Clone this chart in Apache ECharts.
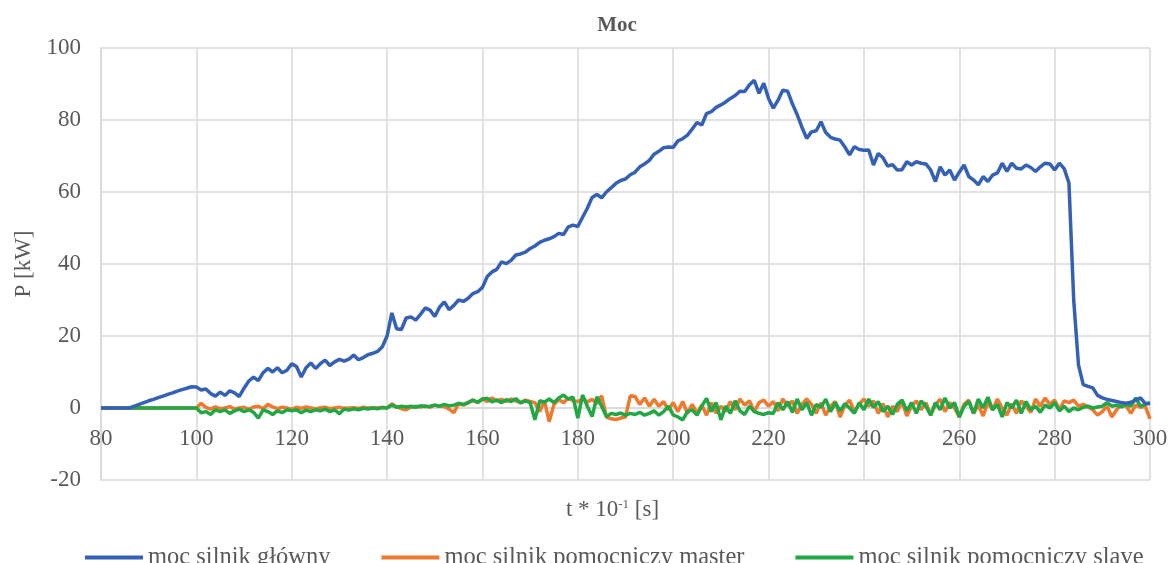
<!DOCTYPE html>
<html><head><meta charset="utf-8">
<script src="https://cdn.jsdelivr.net/npm/echarts@6/dist/echarts.min.js"></script>
<style>html,body{margin:0;padding:0;background:#fff}#c{width:1174px;height:563px}</style>
</head><body><div id="c"></div>
<script>
var xStart = 80, xEnd = 300;
var seriesNames = ['moc silnik główny', 'moc silnik pomocniczy master', 'moc silnik pomocniczy slave'];
// values at t = 80, 81, ..., 300
var mainPower = [
0,0,0,0,0,0,0,0.5,1,1.5,
2,2.4,2.9,3.3,3.8,4.2,4.7,5.1,5.5,5.9,
5.8,5.0,5.3,4.0,3.3,4.4,3.5,4.8,4.2,3.2,
5.5,7.5,8.6,7.6,9.8,11,10,11.2,9.8,10.5,
12.3,11.5,8.6,11.2,12.5,11,12.3,13.3,11.8,12.8,
13.5,13,13.6,14.7,13.4,14,14.8,15.2,15.7,17,
20,26.4,22,21.8,25,25.3,24.4,26,27.8,27.2,
25.4,28,29.5,27.3,28.5,30,29.6,30.5,31.8,32.3,
33.5,36.5,37.8,38.5,40.6,40.1,41,42.5,42.8,43.3,
44.3,45,46,46.6,47,47.6,48.5,48.2,50.3,50.8,
50.4,53,55.5,58.5,59.3,58.4,60,61.2,62.4,63.2,
63.6,64.8,65.5,67,67.8,68.8,70.5,71.3,72.3,72.5,
72.4,74.2,74.8,75.8,77.5,79.3,78.6,81.8,82.3,83.5,
84.2,85,86,86.8,88,87.9,89.8,91,87.4,90.2,
86,83.3,85.5,88.3,88,84.5,81.5,78,74.9,76.7,
77,79.5,76.5,75.2,74.7,74.4,72.5,70.3,72.6,71.8,
71.6,71.7,67.5,70.7,69.5,67.2,67.6,66.1,66.2,68.4,
67.5,68.4,68,67.8,66.1,62.9,67,64.7,66.1,63.3,
65.5,67.5,64.3,63.3,62,64.3,62.9,64.7,65.3,68,
65.7,68,66.6,66.4,67.5,66.8,65.7,67,68,67.8,
66.1,68,66.5,62.5,30,12,6.5,6,5.6,3.5,
2.8,2.4,2.1,1.8,1.5,1.3,1.6,2.2,2.8,1.3,
1.2
];
var masterPower = [
0,0,0,0,0,0,0,0,0,0,
0,0,0,0,0,0,0,0,0,0,
0,1.3,0.2,-0.3,0.3,-0.2,0,0.4,-0.3,0,
0.2,-0.4,0.3,0.5,-0.2,1.0,0.3,-0.2,0.2,0,
-0.4,0.2,-0.1,0.3,0,-0.3,0.1,0.2,-0.2,0,
0.2,-0.1,0,0.1,-0.1,0.2,0,0.1,0,0.2,
0,1.2,0.3,-0.2,-0.5,0.2,0.5,0.3,0.6,0.2,
0.8,0.5,0.4,-0.3,-1.3,1.2,0.8,1.5,2.2,1.5,
2.5,1.8,2.8,2.0,2.4,1.8,2.5,2.0,1.5,2.2,
1.8,1.5,-1.0,2.0,-3.8,1.0,2.3,1.5,2.7,2.0,
1.8,2.5,1.7,2.4,1.2,3.4,-2.5,-3.0,-3.2,-2.8,
-2.5,3.4,3.2,1.0,2.8,0.5,2.4,0.5,1.8,-0.5,
1.5,-1.0,1.8,-1.5,1.0,-1.5,0.8,-2.0,1.5,-1.5,
0.5,-1.0,1.8,-0.5,2.5,0.8,2.0,-1.0,1.5,2.2,
0.5,1.8,-0.8,2.5,0.5,2.0,-1.5,1.0,2.5,1.0,
-1.5,1.5,-2.0,0.5,1.8,-2.5,0.8,2.2,-1.0,1.0,
2.5,0.5,2.0,-1.5,1.2,-2.5,0.5,-1.0,1.8,-2.2,
0.5,2.0,-0.5,1.5,-2.0,0.8,2.5,-1.0,1.5,0.0,
-2.5,1.0,2.2,-1.5,0.8,-2.2,1.5,-0.5,2.5,0.0,
-2.0,1.2,-1.5,2.0,0.5,-1.2,2.5,0.5,2.8,1.0,
2.2,-0.5,2.0,1.5,2.2,0.5,1.0,0.3,-0.5,-2.0,
-1.0,0.5,-2.5,-0.5,1.0,0.5,-1.5,0.8,0.2,0.5,
-3.0
];
var slavePower = [
0,0,0,0,0,0,0,0,0,0,
0,0,0,0,0,0,0,0,0,0,
0,-1.3,-1.0,-1.8,-0.5,-1.0,-0.5,-1.5,-0.8,-0.3,
-1.0,-0.5,-1.2,-2.8,-0.5,-1.0,-1.8,-0.8,-1.3,-0.5,
-0.8,-0.5,-1.3,-0.6,-1.0,-0.5,-0.8,-0.3,-1.0,-0.5,
-1.6,-0.3,-0.6,-0.2,-0.5,-0.1,-0.3,0,-0.2,0.1,
0,0.8,0.2,0.5,0.3,0.5,0.2,0.6,0.4,0.5,
0.8,0.5,1.0,0.6,0.8,1.3,1.0,1.5,2.2,1.6,
2.5,2.7,1.7,2.2,1.5,2.3,1.8,2.6,1.4,2.0,
1.5,-3.3,2.0,1.6,2.5,1.5,2.8,3.6,2.5,3.0,
-2.8,3.6,0.5,-2.4,3.1,0.5,-2.4,-1.5,-1.8,-1.4,
-2.0,-1.5,-1.8,-1.2,-2.0,-1.5,-0.8,-2.0,-1.0,0.5,
-1.9,-2.5,-3.3,-1.0,-0.5,-2.0,0.5,2.7,-1.0,1.5,
-3.3,0.5,-1.5,2.0,-0.8,-1.8,0.5,-1.0,-1.5,-1.8,
-1.3,-1.5,1.5,-0.5,1.8,-1.2,2.5,-0.5,1.5,-2.0,
1.0,0.2,2.5,-1.0,1.5,-0.8,1.2,0.0,-1.5,1.5,
-0.5,2.5,0.2,1.8,-1.0,0.5,-1.8,1.0,2.2,-0.8,
1.5,-1.5,2.0,0.5,-2.0,1.5,-0.5,2.8,0.0,1.5,
-2.5,0.5,1.8,-1.5,2.5,0.0,3.0,-0.5,1.0,-2.5,
1.5,0.0,2.2,-1.5,1.8,-0.5,0.5,-1.2,0.8,0.0,
1.5,-0.8,0.5,-1.0,0.0,-0.5,0.2,0.5,0.0,0.3,
0.5,1.5,0.5,0.8,0.3,1.0,0.5,2.8,0.5,1.0,
1.5
];
var yTicks = {min: -20, max: 100, interval: 20};
var xTicks = {min: 80, max: 300, interval: 20};

function pairs(arr){ return arr.map(function(v,i){ return [xStart + i, v]; }); }

var FONT = '"Liberation Serif", "Times New Roman", serif';
var TXT = '#595959';
var chart = echarts.init(document.getElementById('c'));
chart.setOption({
  animation: false,
  backgroundColor: '#fff',
  title: {text: 'Moc', left: 612, top: 10, textAlign: 'center',
    textStyle: {fontFamily: FONT, fontSize: 21, fontWeight: 'bold', color: TXT}},
  grid: {left: 101, right: 24, top: 48, bottom: 83, outerBoundsMode: 'none', containLabel: false},
  legend: {
    left: 80, top: 540, itemWidth: 58, itemHeight: 4, itemGap: 51, icon: 'rect',
    textStyle: {fontFamily: FONT, fontSize: 24.5, color: TXT},
    data: seriesNames
  },
  xAxis: {
    type: 'value', min: xTicks.min, max: xTicks.max, interval: xTicks.interval,
    offset: -72,
    axisLine: {show: true, onZero: false, lineStyle: {color: '#d9d9d9', width: 1.5}},
    axisTick: {show: false},
    axisLabel: {fontFamily: FONT, fontSize: 23, color: TXT, margin: 19},
    splitLine: {show: true, lineStyle: {color: '#d9d9d9', width: 1.5}},
    name: '{a|t * 10}{s|-1}{a| [s]}', nameLocation: 'middle', nameGap: 90,
    nameTextStyle: {padding: [0, 26, 0, 0], rich: {
      a: {fontFamily: FONT, fontSize: 23, color: TXT},
      s: {fontFamily: FONT, fontSize: 13, color: TXT, padding: [0, 0, 10, 0]}
    }}
  },
  yAxis: {
    type: 'value', min: yTicks.min, max: yTicks.max, interval: yTicks.interval,
    axisLine: {show: true, lineStyle: {color: '#d9d9d9', width: 1.5}},
    axisTick: {show: false},
    axisLabel: {fontFamily: FONT, fontSize: 23, color: TXT, margin: 20},
    splitLine: {show: true, lineStyle: {color: '#d9d9d9', width: 1.5}},
    name: 'P [kW]', nameLocation: 'middle', nameGap: 56,
    nameTextStyle: {fontFamily: FONT, fontSize: 23, color: TXT}
  },
  series: [
    {name: seriesNames[0], type: 'line', data: pairs(mainPower), showSymbol: false, z: 4,
     lineStyle: {color: '#3461b5', width: 3.5}, itemStyle: {color: '#3461b5'}},
    {name: seriesNames[1], type: 'line', data: pairs(masterPower), showSymbol: false, z: 2,
     lineStyle: {color: '#ee7a30', width: 3.5}, itemStyle: {color: '#ee7a30'}},
    {name: seriesNames[2], type: 'line', data: pairs(slavePower), showSymbol: false, z: 3,
     lineStyle: {color: '#22a745', width: 3.5}, itemStyle: {color: '#22a745'}}
  ]
});
</script></body></html>
